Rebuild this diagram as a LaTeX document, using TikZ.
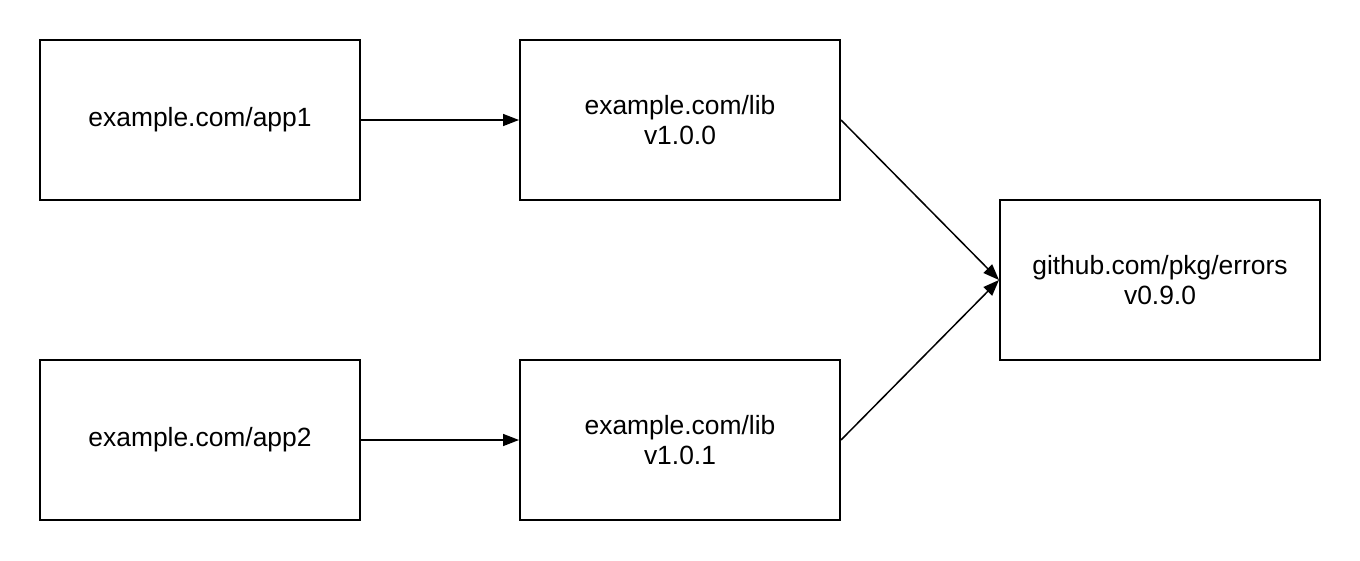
\documentclass[tikz,border=0pt]{standalone}
\usepackage{fontspec}
\setmainfont{Liberation Sans}
\usetikzlibrary{arrows.meta}
\begin{document}
\begin{tikzpicture}[x=1pt,y=-1pt,
  box/.style={draw=black,line width=2pt,minimum width=320pt,minimum height=160pt,inner sep=0pt,
    align=center,font=\fontsize{26.4}{30}\selectfont},
  conn/.style={line width=1.5pt,-{Triangle[length=16pt,width=12pt]}}]
\useasboundingbox (0,0) rectangle (1360,560);
\node[box] (app1) at (200,120) {example.com/app1};
\node[box] (lib1) at (680,120) {example.com/lib\\v1.0.0};
\node[box] (app2) at (200,440) {example.com/app2};
\node[box] (lib2) at (680,440) {example.com/lib\\v1.0.1};
\node[box] (err) at (1160,280) {github.com/pkg/errors\\v0.9.0};
\draw[conn] (app1.east) -- (lib1.west);
\draw[conn] (app2.east) -- (lib2.west);
\draw[conn] (lib1.east) -- (err.west);
\draw[conn] (lib2.east) -- (err.west);
\end{tikzpicture}
\end{document}
